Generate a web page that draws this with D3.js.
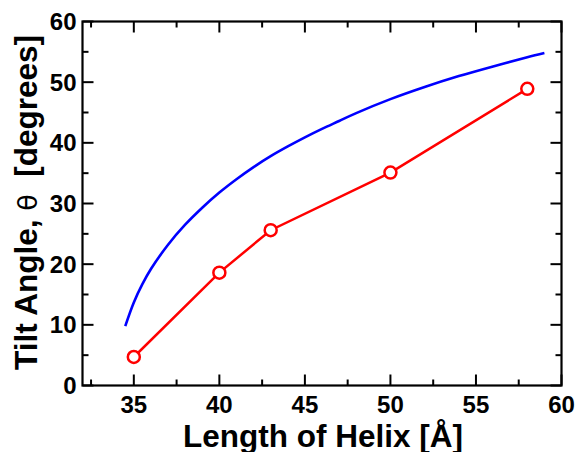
<!DOCTYPE html>
<html><head><meta charset="utf-8">
<script src="https://cdn.jsdelivr.net/npm/d3@7"></script>
<style>html,body{margin:0;padding:0;background:#fff;}svg{display:block;}</style>
</head><body>
<script>
// Measured series (red, with markers)
const helixLength = [35, 40, 43, 50, 58];
const tiltMeasured = [4.7, 18.6, 25.6, 35.1, 48.9];
// Model curve (blue)
const curveLength = [34.5, 35, 35.5, 36, 37, 38, 39, 40, 41, 42, 43, 44, 45, 46, 47, 48, 50, 52, 54, 56, 58, 59];
const curveTilt   = [9.8, 13.7, 16.7, 19.2, 23.2, 26.5, 29.3, 31.8, 34.0, 36.0, 37.8, 39.4, 40.9, 42.3, 43.6, 44.9, 47.2, 49.2, 51.0, 52.6, 54.1, 54.8];
const xMajorTicks = [35, 40, 45, 50, 55, 60];
const xMinorTicks = [32.5, 37.5, 42.5, 47.5, 52.5, 57.5];
const yMajorTicks = [0, 10, 20, 30, 40, 50, 60];
const yMinorTicks = [5, 15, 25, 35, 45, 55];

const W = 578, H = 452;
const m = {left: 82.5, right: 16.5, top: 21.5, bottom: 66.5};
const svg = d3.select("body").append("svg").attr("width", W).attr("height", H);
const x = d3.scaleLinear().domain([32, 60]).range([m.left, W - m.right]);
const y = d3.scaleLinear().domain([0, 60]).range([H - m.bottom, m.top]);
const font = "'Liberation Sans', Arial, Helvetica, sans-serif";

const g = svg.append("g");
// ticks (inward, all four sides)
function ticks(vals, len, axis) {
  vals.forEach(v => {
    if (axis === "x") {
      [[y(0), -1], [y(60), 1]].forEach(([yy, d]) =>
        g.append("line").attr("x1", x(v)).attr("x2", x(v)).attr("y1", yy).attr("y2", yy + d * len)
         .attr("stroke", "#000").attr("stroke-width", 2));
    } else {
      [[x(32), 1], [x(60), -1]].forEach(([xx, d]) =>
        g.append("line").attr("y1", y(v)).attr("y2", y(v)).attr("x1", xx).attr("x2", xx + d * len)
         .attr("stroke", "#000").attr("stroke-width", 2));
    }
  });
}
ticks(xMajorTicks, 11, "x"); ticks(xMinorTicks, 6, "x");
ticks(yMajorTicks, 11, "y"); ticks(yMinorTicks, 6, "y");

g.append("rect").attr("x", x(32)).attr("y", y(60)).attr("width", x(60) - x(32)).attr("height", y(0) - y(60))
  .attr("fill", "none").attr("stroke", "#000").attr("stroke-width", 2.2);

// tick labels
xMajorTicks.forEach(v => g.append("text").attr("x", x(v)).attr("y", y(0) + 27).attr("text-anchor", "middle")
  .attr("font-family", font).attr("font-weight", "bold").attr("font-size", 24).text(v));
yMajorTicks.forEach(v => g.append("text").attr("x", x(32) - 6).attr("y", y(v) + 8.5).attr("text-anchor", "end")
  .attr("font-family", font).attr("font-weight", "bold").attr("font-size", 24).text(v));

// axis titles
svg.append("text").attr("x", (x(32) + x(60)) / 2 + 1).attr("y", 447).attr("text-anchor", "middle")
  .attr("font-family", font).attr("font-weight", "bold").attr("font-size", 31.5).text("Length of Helix [Å]");
const yt = svg.append("text").attr("transform", `translate(37,${(y(0) + y(60)) / 2 - 1}) rotate(-90)`)
  .attr("text-anchor", "middle").attr("font-family", font).attr("font-weight", "bold").attr("font-size", 31.5);
yt.append("tspan").text("Tilt Angle, ");
yt.append("tspan").attr("font-weight", "normal").attr("font-family", "'DejaVu Sans', sans-serif").attr("font-size", 27).text("θ");
yt.append("tspan").text("\u00a0 [degrees]");

// blue curve
const curveData = curveLength.map((l, i) => [l, curveTilt[i]]);
g.append("path").datum(curveData)
  .attr("d", d3.line().x(d => x(d[0])).y(d => y(d[1])).curve(d3.curveCatmullRom))
  .attr("fill", "none").attr("stroke", "#0000ff").attr("stroke-width", 2.6);

// red measured line + markers
const measData = helixLength.map((l, i) => [l, tiltMeasured[i]]);
g.append("path").datum(measData)
  .attr("d", d3.line().x(d => x(d[0])).y(d => y(d[1])))
  .attr("fill", "none").attr("stroke", "#ff0000").attr("stroke-width", 2.5);
g.selectAll("circle.m").data(measData).enter().append("circle")
  .attr("cx", d => x(d[0])).attr("cy", d => y(d[1])).attr("r", 6)
  .attr("fill", "#fff").attr("stroke", "#ff0000").attr("stroke-width", 2.5);
</script>
</body></html>
